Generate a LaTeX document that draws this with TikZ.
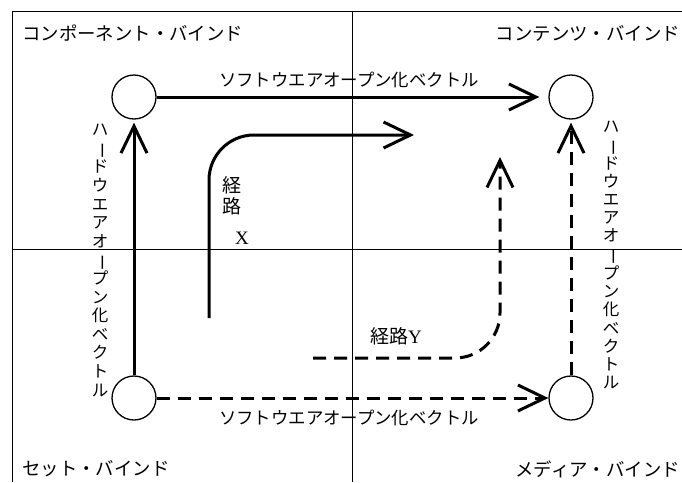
\documentclass[tikz,border=0pt]{standalone}
\usepackage{fontspec}
\usepackage{graphicx}
\setmainfont{Liberation Serif}
\newfontfamily\jp{Noto Sans CJK JP}
\usetikzlibrary{arrows.meta}
\newcommand{\vbar}{\rotatebox[origin=c]{-90}{ー}}
\begin{document}
\begin{tikzpicture}[x=1pt,y=-1pt,
  frame/.style={line width=1pt},
  bind/.style={circle, draw, line width=1.3pt, minimum size=44pt, inner sep=0pt},
  vec/.style={line width=3pt, -{Straight Barb[length=27pt,width=26pt]}},
  dvec/.style={vec, dash pattern=on 13pt off 8pt},
  corner/.style={font=\jp\fontsize{18.4}{20}\selectfont, inner sep=0pt},
  lbl/.style={font=\jp\fontsize{17.4}{19}\selectfont, inner sep=0pt},
  vlbl/.style={font=\jp\fontsize{16.5}{18.2}\selectfont, align=center, inner sep=0pt},
  pathlbl/.style={font=\jp\fontsize{19}{21}\selectfont, inner sep=0pt},
]
\path[use as bounding box] (0,0) rectangle (682,482);
\draw[frame] (12,482) -- (12,11) -- (682,11);
\draw[frame] (12,249) -- (682,249);
\draw[frame] (352,11) -- (352,482);

\node[bind] (tl) at (134,97) {};
\node[bind] (tr) at (571,97) {};
\node[bind] (bl) at (134,398) {};
\node[bind] (br) at (571,398) {};

\draw[vec, shorten >=9pt] (tl) -- (tr);
\draw[vec, shorten >=3pt] (bl) -- (tl);
\draw[dvec] (bl) -- (br);
\draw[dvec, shorten >=3pt] (br) -- (tr);

\coordinate (xs) at (209,318);
\coordinate (xe) at (414,135);
\draw[vec, rounded corners=45pt] (xs) |- (xe);
\coordinate (ys) at (313,358);
\coordinate (ye) at (500,157);
\draw[dvec, rounded corners=45pt] (ys) -| (ye);

\node[lbl] (st) at (349,80) {ソフトウエアオープン化ベクトル};
\node[lbl] (sb) at (349,418) {ソフトウエアオープン化ベクトル};
\node[corner, anchor=west] (c1) at (22,33) {コンポーネント・バインド};
\node[corner, anchor=east] (c2) at (680,33) {コンテンツ・バインド};
\node[corner, anchor=west] (c3) at (22,469) {セット・バインド};
\node[corner, anchor=east] (c4) at (680,469) {メディア・バインド};

\node[vlbl, anchor=north, font=\jp\fontsize{16.5}{18.6}\selectfont] (hl) at (100,124) {ハ\\\vbar\\ド\\ウ\\エ\\ア\\オ\\\vbar\\プ\\ン\\化\\ベ\\ク\\ト\\ル};
\node[vlbl, anchor=north] (hr) at (611,121) {ハ\\\vbar\\ド\\ウ\\エ\\ア\\オ\\\vbar\\プ\\ン\\化\\ベ\\ク\\ト\\ル};

\node[pathlbl] (x1) at (232,185) {経};
\node[pathlbl] (x2) at (232,206) {路};
\node[font=\fontsize{19}{21}\selectfont, inner sep=0pt] (x3) at (242,238) {X};
\node[anchor=west, inner sep=0pt, font=\fontsize{19}{21}\selectfont] (y1) at (370,336) {{\jp 経路}Y};
\end{tikzpicture}
\end{document}
